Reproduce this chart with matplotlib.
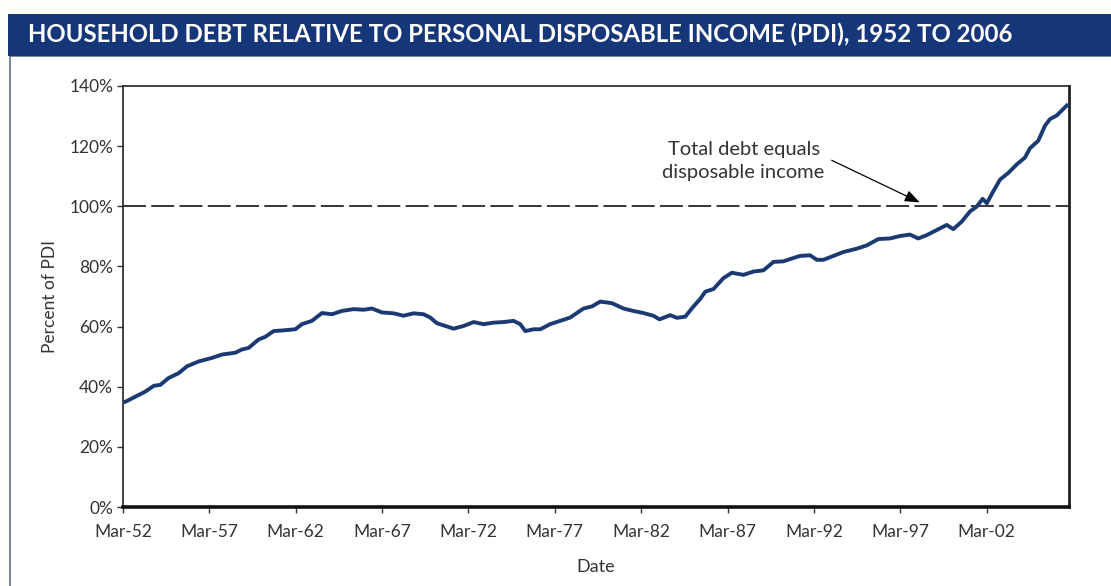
import matplotlib
matplotlib.use("Agg")
import matplotlib.pyplot as plt
from matplotlib.patches import Rectangle

# ---------------- data ----------------
years = [1952.31, 1952.89, 1953.47, 1953.95, 1954.33, 1954.81, 1955.39, 1955.88,
         1956.55, 1957.33, 1957.90, 1958.67, 1959.06, 1959.44, 1960.02, 1960.41,
         1960.89, 1961.38, 1962.15, 1962.53, 1963.11, 1963.69, 1964.27, 1964.85,
         1965.52, 1966.10, 1966.59, 1967.16, 1967.84, 1968.41, 1968.99, 1969.57,
         1969.96, 1970.35, 1970.73, 1971.31, 1971.89, 1972.47, 1973.04, 1973.62,
         1974.20, 1974.78, 1975.17, 1975.46, 1975.94, 1976.33, 1976.90, 1977.48,
         1978.06, 1978.83, 1979.32, 1979.80, 1980.47, 1981.15, 1981.72, 1982.30,
         1982.88, 1983.23, 1983.85, 1984.24, 1984.72, 1985.20, 1985.59, 1985.88,
         1986.36, 1986.93, 1987.42, 1988.09, 1988.67, 1989.25, 1989.83, 1990.41,
         1990.98, 1991.37, 1991.95, 1992.34, 1992.72, 1993.30, 1993.88, 1994.65,
         1995.23, 1995.90, 1996.57, 1997.15, 1997.73, 1998.21, 1998.70, 1999.28,
         1999.86, 2000.24, 2000.73, 2001.21, 2001.60, 2001.94, 2002.18, 2002.56,
         2002.95, 2003.43, 2003.91, 2004.39, 2004.68, 2005.16, 2005.55, 2005.84,
         2006.23, 2006.81]
debt_pct = [35.0, 36.7, 38.4, 40.3, 40.6, 42.9, 44.5, 46.8,
            48.4, 49.6, 50.7, 51.3, 52.4, 52.9, 55.7, 56.6,
            58.5, 58.7, 59.1, 60.8, 61.9, 64.5, 64.1, 65.2,
            65.8, 65.6, 66.0, 64.7, 64.4, 63.6, 64.4, 64.1,
            63.0, 61.1, 60.4, 59.3, 60.2, 61.5, 60.8, 61.3,
            61.5, 61.9, 60.8, 58.5, 59.1, 59.1, 60.8, 61.9,
            63.0, 66.0, 66.7, 68.3, 67.8, 66.0, 65.2, 64.5,
            63.6, 62.4, 63.8, 62.9, 63.3, 66.7, 69.2, 71.6,
            72.5, 76.1, 77.9, 77.2, 78.3, 78.7, 81.5, 81.7,
            82.8, 83.5, 83.7, 82.2, 82.2, 83.5, 84.8, 85.9,
            87.0, 89.1, 89.3, 90.1, 90.6, 89.3, 90.4, 92.1,
            93.8, 92.4, 94.9, 98.3, 99.9, 102.5, 101.0, 105.0,
            108.9, 111.1, 113.9, 116.2, 119.3, 121.8, 126.8, 129.0,
            130.2, 133.5]

tick_years = [1952.17, 1957.17, 1962.17, 1967.17, 1972.17, 1977.17,
              1982.17, 1987.17, 1992.17, 1997.17, 2002.17]
tick_labels = ["Mar-52", "Mar-57", "Mar-62", "Mar-67", "Mar-72", "Mar-77",
               "Mar-82", "Mar-87", "Mar-92", "Mar-97", "Mar-02"]
y_ticks = [0, 20, 40, 60, 80, 100, 120, 140]
y_labels = ["0%", "20%", "40%", "60%", "80%", "100%", "120%", "140%"]
reference_level = 100

title = "HOUSEHOLD DEBT RELATIVE TO PERSONAL DISPOSABLE INCOME (PDI), 1952 TO 2006"
annotation = "Total debt equals\ndisposable income"

# ---------------- styling ----------------
plt.rcParams["font.family"] = ["Liberation Sans Narrow", "Lato", "DejaVu Sans"]
W, H = 1111, 586
fig = plt.figure(figsize=(W / 100, H / 100), dpi=100)
fig.patch.set_facecolor("#fdfdf9")

# panel
fig.patches.append(Rectangle((10 / W, -0.01), 1 - 10 / W + 0.01, (H - 56) / H + 0.01,
                             transform=fig.transFigure, facecolor="white",
                             edgecolor="#5b7387", lw=1.2, zorder=-2))
# banner
fig.patches.append(Rectangle((8 / W, 1 - 56 / H), 1 - 8 / W, 42 / H,
                             transform=fig.transFigure, facecolor="#16367a",
                             edgecolor="none", zorder=-1))
t = fig.text(28 / W, 1 - 34.5 / H, title, color="white", fontsize=16,
             fontweight="bold", ha="left", va="center", zorder=2)
fig.canvas.draw()
w = t.get_window_extent().width
t.set_fontsize(16 * 984 / w)

ax = fig.add_axes([123 / W, 1 - 507 / H, (1069 - 123) / W, (507 - 86) / H])
ax.set_zorder(10)
ax.plot(years, debt_pct, color="#1b3a72", lw=2.8, solid_joinstyle="round", zorder=3)
ax.axhline(reference_level, color="black", lw=1.1, dashes=(15, 3.5), zorder=2)

ax.set_xlim(1952.17, 2006.94)
ax.set_ylim(0, 140)
ax.set_xticks(tick_years)
ax.set_xticklabels(tick_labels)
ax.set_yticks(y_ticks)
ax.set_yticklabels(y_labels)
ax.tick_params(axis="both", direction="out", length=4, width=1, color="#333333",
               labelsize=12.5, labelcolor="#333333", pad=3)
ax.tick_params(axis="x", pad=8)

for s in ["left", "top", "right"]:
    ax.spines[s].set_linewidth(1.2)
    ax.spines[s].set_color("#222222")
ax.spines["bottom"].set_linewidth(2.6)
ax.spines["bottom"].set_color("#111111")
ax.spines["right"].set_linewidth(2.0)

ax.set_xlabel("Date", fontsize=13, color="#333333", labelpad=14)
ax.set_ylabel("Percent of PDI", fontsize=12.5, color="#333333", labelpad=8)

ax.text(1988.1, 115.0, annotation, ha="center", va="center", fontsize=14.5,
        color="#333333", linespacing=1.45)
ax.annotate("", xy=(1998.3, 101.3), xytext=(1993.2, 115.3),
            arrowprops=dict(arrowstyle="-|>,head_length=0.9,head_width=0.35",
                            color="black", lw=0.9, shrinkA=0, shrinkB=0))

fig.savefig("out.png", dpi=100, facecolor=fig.get_facecolor())
